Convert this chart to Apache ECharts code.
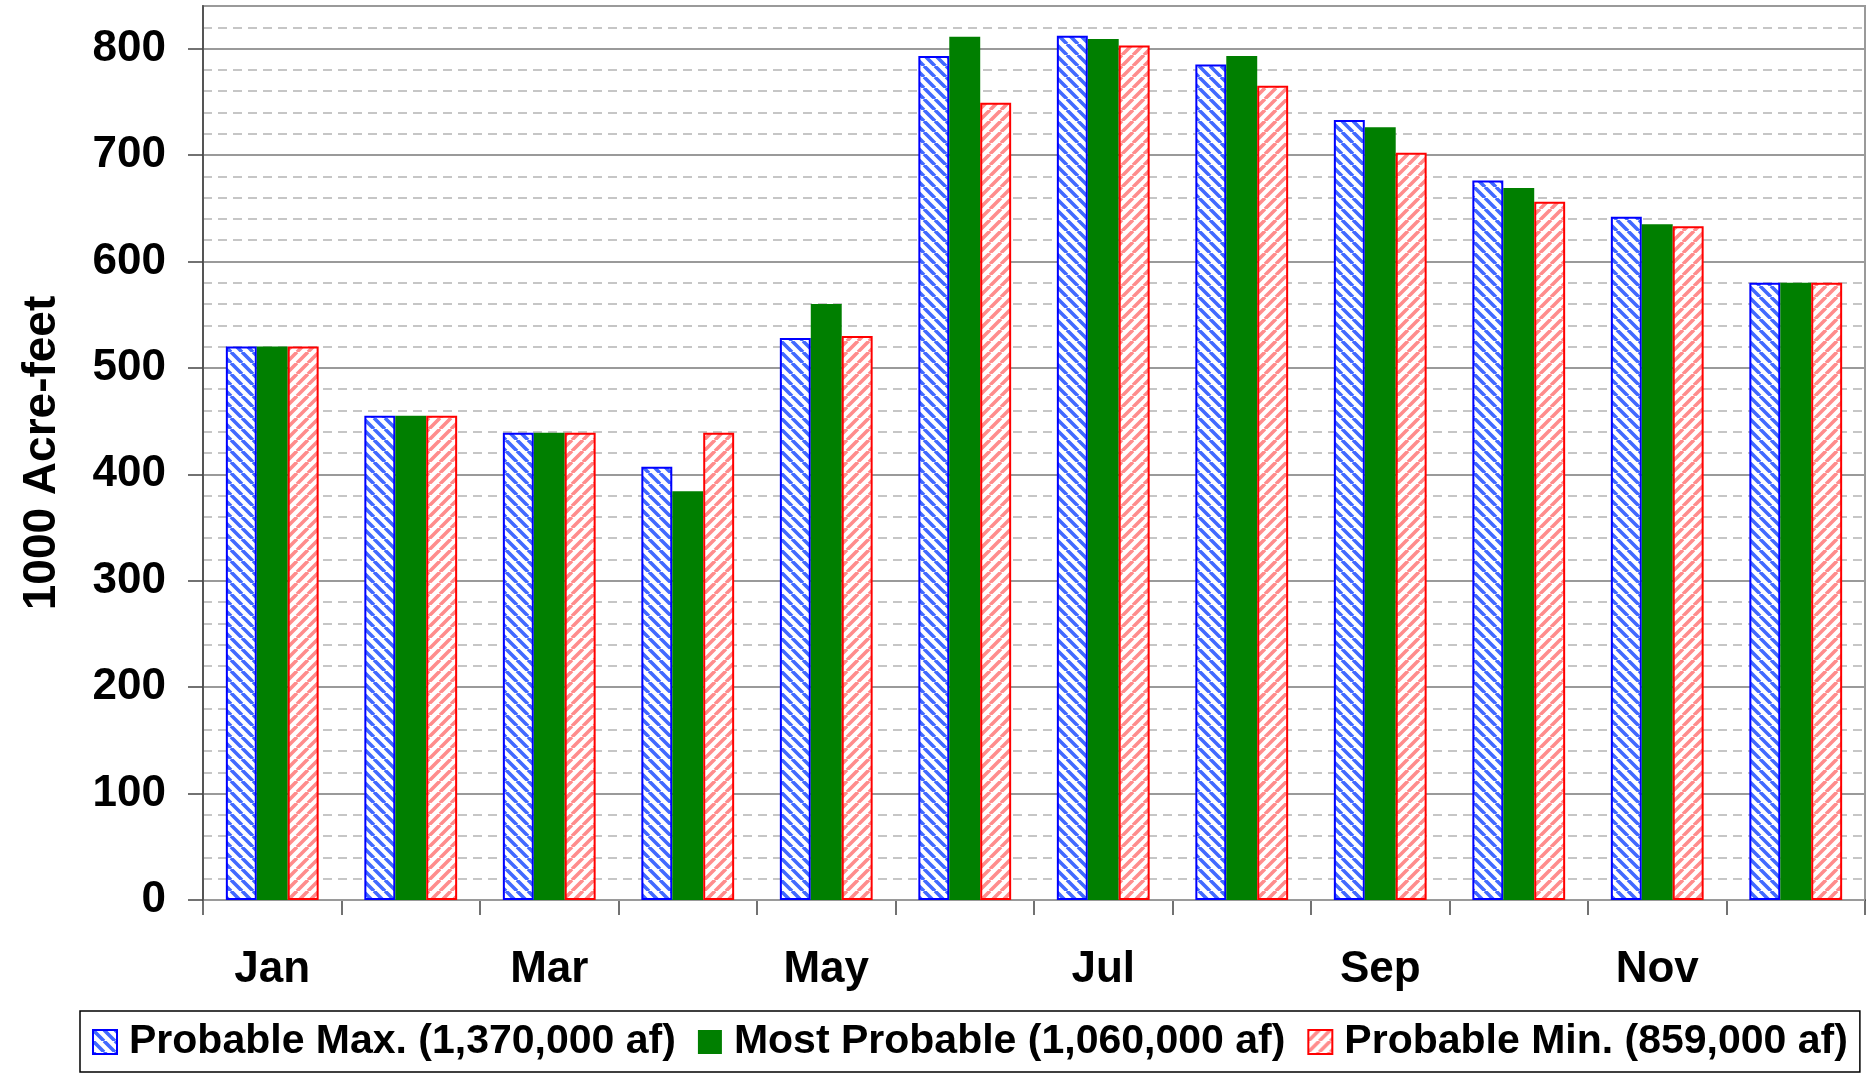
<!DOCTYPE html>
<html>
<head>
<meta charset="utf-8">
<script src="https://cdn.jsdelivr.net/npm/echarts@6/dist/echarts.min.js"></script>
<style>
html,body{margin:0;padding:0;background:#fff;}
#chart{width:1866px;height:1074px;}
</style>
</head>
<body>
<div id="chart"></div>
<script>
const months = ['Jan','Feb','Mar','Apr','May','Jun','Jul','Aug','Sep','Oct','Nov','Dec'];
const seriesNames = ['Probable Max. (1,370,000 af)','Most Probable (1,060,000 af)','Probable Min. (859,000 af)'];
const probableMax = [520,455,439,407,528,793,812,785,733,676,642,580];
const mostProbable = [520,455,439,384,560,811,809,793,726,669,635,580];
const probableMin = [520,455,439,439,530,749,803,765,702,656,633,580];
const yMin = 0, yMax = 840, yInterval = 100, yMinorInterval = 20;
const yAxisTitle = '1000 Acre-feet';

function makePattern(stroke, back) {
  const s = 11;
  const c = document.createElement('canvas');
  c.width = s; c.height = s;
  const ctx = c.getContext('2d');
  ctx.fillStyle = '#ffffff';
  ctx.fillRect(0, 0, s, s);
  ctx.strokeStyle = stroke;
  ctx.lineWidth = 3.6;
  ctx.beginPath();
  for (let k = -1; k <= 1; k++) {
    const x0 = k * s;
    if (back) { ctx.moveTo(x0, 0); ctx.lineTo(x0 + s, s); }
    else { ctx.moveTo(x0 + s, 0); ctx.lineTo(x0, s); }
  }
  ctx.stroke();
  return {image: c, repeat: 'repeat'};
}

const blueHatch = makePattern('#4169ff', true);
const redHatch = makePattern('#ff8c8c', false);

const font = '"Liberation Sans", Arial, sans-serif';
const chart = echarts.init(document.getElementById('chart'), null, {renderer: 'canvas'});

chart.setOption({
  animation: false,
  backgroundColor: '#ffffff',
  grid: {left: 203, right: 1, top: 6, bottom: 174, show: true, borderColor: '#999999', borderWidth: 2, backgroundColor: 'transparent'},
  legend: {
    data: seriesNames,
    left: 80, top: 1011,
    width: 1780,
    orient: 'horizontal',
    icon: 'rect',
    itemWidth: 24, itemHeight: 24,
    itemGap: 22,
    padding: [10, 12, 9, 12],
    borderColor: '#000000', borderWidth: 1.5,
    textStyle: {fontFamily: font, fontWeight: 'bold', fontSize: 41, lineHeight: 42, color: '#000', padding: [0, 0, 0, 7]}
  },
  xAxis: {
    type: 'category',
    data: months,
    axisLine: {lineStyle: {color: '#555555', width: 2}},
    axisTick: {show: true, interval: 0, length: 15, lineStyle: {color: '#444444', width: 1.5}},
    axisLabel: {interval: 1, margin: 48, fontFamily: font, fontWeight: 'bold', fontSize: 44, color: '#000'},
    splitLine: {show: false}
  },
  yAxis: [{
    type: 'value', min: yMin, max: yMax, interval: yInterval, z: 1,
    name: yAxisTitle, nameLocation: 'middle', nameGap: 138, nameRotate: 90,
    nameTextStyle: {fontFamily: font, fontWeight: 'bold', fontSize: 46, color: '#000'},
    axisLine: {show: true, lineStyle: {color: '#555555', width: 2}},
    axisTick: {show: true, length: 15, lineStyle: {color: '#444444', width: 1.5}},
    axisLabel: {margin: 37, showMaxLabel: false, fontFamily: font, fontWeight: 'bold', fontSize: 44, color: '#000'},
    splitLine: {show: true, lineStyle: {color: '#9a9a9a', width: 2}}
  }, {
    type: 'value', min: yMin, max: yMax, interval: yMinorInterval, z: 0, position: 'left',
    axisLine: {show: false}, axisTick: {show: false}, axisLabel: {show: false},
    splitLine: {show: true, lineStyle: {color: '#b4b4b4', width: 1.5, type: [9, 6]}}
  }],
  series: [{
    name: seriesNames[0], type: 'bar', data: probableMax, yAxisIndex: 0,
    barGap: '0%', barCategoryGap: '33%',
    itemStyle: {color: blueHatch, borderColor: '#0000ff', borderWidth: 2}
  }, {
    name: seriesNames[1], type: 'bar', data: mostProbable, yAxisIndex: 0,
    barGap: '0%', barCategoryGap: '33%',
    itemStyle: {color: '#007f00', borderColor: '#007f00', borderWidth: 0}
  }, {
    name: seriesNames[2], type: 'bar', data: probableMin, yAxisIndex: 0,
    barGap: '0%', barCategoryGap: '33%',
    itemStyle: {color: redHatch, borderColor: '#ff0000', borderWidth: 2}
  }]
});
</script>
</body>
</html>
